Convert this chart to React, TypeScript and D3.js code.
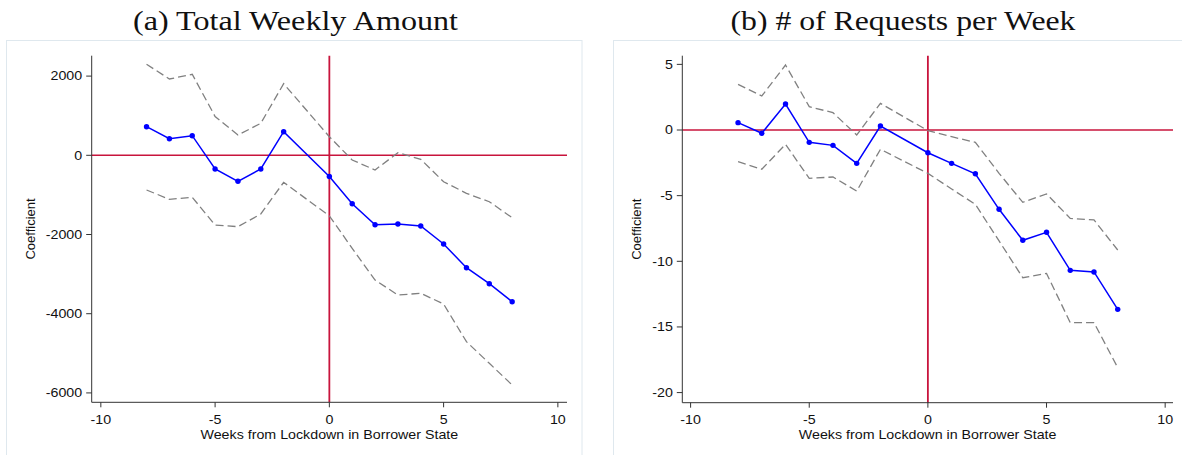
import React from "react";
import * as d3 from "d3";

// ---- data ----
const weeks = [-8, -7, -6, -5, -4, -3, -2, 0, 1, 2, 3, 4, 5, 6, 7, 8];

const amountCoef = [722, 419, 495, -346, -657, -346, 596, -535, -1222, -1752, -1735, -1785, -2240, -2838, -3242, -3697];
const amountUpper = [2298, 1927, 2045, 980, 513, 808, 1808, 470, -119, -371, 66, -101, -667, -960, -1172, -1576];
const amountLower = [-876, -1111, -1061, -1760, -1803, -1482, -682, -1530, -2348, -3149, -3528, -3485, -3755, -4707, -5253, -5800];

const requestsCoef = [0.56, -0.25, 1.98, -0.94, -1.17, -2.54, 0.3, -1.73, -2.54, -3.33, -6.04, -8.4, -7.79, -10.69, -10.81, -13.66];
const requestsUpper = [3.48, 2.59, 4.95, 1.78, 1.32, -0.38, 2.03, -0.05, -0.51, -0.94, -3.3, -5.51, -4.87, -6.73, -6.85, -9.14];
const requestsLower = [-2.41, -2.99, -1.09, -3.68, -3.58, -4.65, -1.47, -3.3, -4.49, -5.66, -8.45, -11.25, -10.92, -14.67, -14.67, -18.1];

const xTicks = [-10, -5, 0, 5, 10];
const amountYTicks = [2000, 0, -2000, -4000, -6000];
const requestsYTicks = [5, 0, -5, -10, -15, -20];

const titleA = "(a) Total Weekly Amount";
const titleB = "(b) # of Requests per Week";
const xTitle = "Weeks from Lockdown in Borrower State";
const yTitle = "Coefficient";

// ---- style ----
const SANS = "'Liberation Sans', Arial, Helvetica, sans-serif";
const SERIF = "'Liberation Serif', 'Times New Roman', serif";
const STRETCH = 1.14;
const FS = 12.5;
const RED = "#c8143c";
const BLUE = "#0000ff";
const GRAY = "#808080";
const AXIS = "#333333";

type PanelProps = {
  frameX: number;
  frameW: number;
  left: number;
  right: number;
  top: number;
  bottom: number;
  xDomain: [number, number];
  yDomain: [number, number];
  yTicks: number[];
  coef: number[];
  upper: number[];
  lower: number[];
  title: string;
  titleX: number;
  titleW: number;
  yTitleX: number;
};

function SText(props: { x: number; y: number; anchor: string; size: number; children: React.ReactNode; rotate?: boolean }) {
  const { x, y, anchor, size, children, rotate } = props;
  const tr = rotate
    ? `translate(${x},${y}) scale(${STRETCH},1) rotate(-90)`
    : `translate(${x},${y}) scale(${STRETCH},1)`;
  return (
    <text transform={tr} textAnchor={anchor} fontFamily={SANS} fontSize={size} fill="#111">
      {children}
    </text>
  );
}

function Panel(p: PanelProps) {
  const x = d3.scaleLinear().domain(p.xDomain).range([p.left, p.right]);
  const y = d3.scaleLinear().domain(p.yDomain).range([p.bottom, p.top]);
  const pts = (vals: number[]) => weeks.map((w, i) => [x(w), y(vals[i])] as [number, number]);
  const line = d3.line();
  const midY = (p.top + p.bottom) / 2;
  const midX = (p.left + p.right) / 2;
  return (
    <g>
      <rect x={p.frameX} y={40.5} width={p.frameW} height={460} fill="#fff" stroke="#dfe8ee" strokeWidth={1} />
      <text
        x={p.titleX}
        y={30}
        textAnchor="middle"
        fontFamily={SERIF}
        fontSize={27.5}
        fill="#111"
        textLength={p.titleW}
        lengthAdjust="spacingAndGlyphs"
      >
        {p.title}
      </text>
      {/* reference lines */}
      <line x1={p.left} x2={p.right} y1={y(0)} y2={y(0)} stroke={RED} strokeWidth={1.6} />
      <line x1={x(0)} x2={x(0)} y1={p.top} y2={p.bottom} stroke={RED} strokeWidth={1.8} />
      {/* CIs */}
      <path d={line(pts(p.upper)) || ""} fill="none" stroke={GRAY} strokeWidth={1.3} strokeDasharray="8,4" />
      <path d={line(pts(p.lower)) || ""} fill="none" stroke={GRAY} strokeWidth={1.3} strokeDasharray="8,4" />
      {/* coefficient */}
      <path d={line(pts(p.coef)) || ""} fill="none" stroke={BLUE} strokeWidth={1.5} />
      {weeks.map((w, i) => (
        <circle key={i} cx={x(w)} cy={y(p.coef[i])} r={2.7} fill={BLUE} />
      ))}
      {/* axes */}
      <line x1={p.left} x2={p.left} y1={p.top} y2={p.bottom} stroke={AXIS} strokeWidth={1} />
      <line x1={p.left} x2={p.right} y1={p.bottom} y2={p.bottom} stroke={AXIS} strokeWidth={1} />
      {p.yTicks.map((t) => (
        <g key={"y" + t}>
          <line x1={p.left - 5.5} x2={p.left} y1={y(t)} y2={y(t)} stroke={AXIS} strokeWidth={1} />
          <SText x={p.left - 9.5} y={y(t) + 4.4} anchor="end" size={FS}>
            {String(t)}
          </SText>
        </g>
      ))}
      {xTicks.map((t) => (
        <g key={"x" + t}>
          <line x1={x(t)} x2={x(t)} y1={p.bottom} y2={p.bottom + 5} stroke={AXIS} strokeWidth={1} />
          <SText x={x(t)} y={424} anchor="middle" size={FS}>
            {String(t)}
          </SText>
        </g>
      ))}
      <SText x={midX} y={439} anchor="middle" size={FS}>
        {xTitle}
      </SText>
      <SText x={p.yTitleX} y={midY} anchor="middle" size={FS}>
        {""}
      </SText>
      <text
        transform={`translate(${p.yTitleX},${midY}) rotate(-90)`}
        textAnchor="middle"
        fontFamily={SANS}
        fontSize={13}
        fill="#111"
      >
        {yTitle}
      </text>
    </g>
  );
}

export default function App() {
  return (
    <svg
      width={1182}
      height={455}
      viewBox="0 0 1182 455"
      style={{ position: "absolute", left: 0, top: 0, background: "#fff" }}
    >
      <rect x={0} y={0} width={1182} height={455} fill="#fff" />
      <Panel
        frameX={6.5}
        frameW={575.5}
        left={91.7}
        right={567}
        top={55.7}
        bottom={402.3}
        xDomain={[-10.4, 10.4]}
        yDomain={[-6237, 2515]}
        yTicks={amountYTicks}
        coef={amountCoef}
        upper={amountUpper}
        lower={amountLower}
        title={titleA}
        titleX={295.5}
        titleW={325}
        yTitleX={35}
      />
      <Panel
        frameX={613.5}
        frameW={600}
        left={682.3}
        right={1173}
        top={55.7}
        bottom={402.7}
        xDomain={[-10.35, 10.33]}
        yDomain={[-20.77, 5.66]}
        yTicks={requestsYTicks}
        coef={requestsCoef}
        upper={requestsUpper}
        lower={requestsLower}
        title={titleB}
        titleX={903}
        titleW={345}
        yTitleX={641}
      />
    </svg>
  );
}
